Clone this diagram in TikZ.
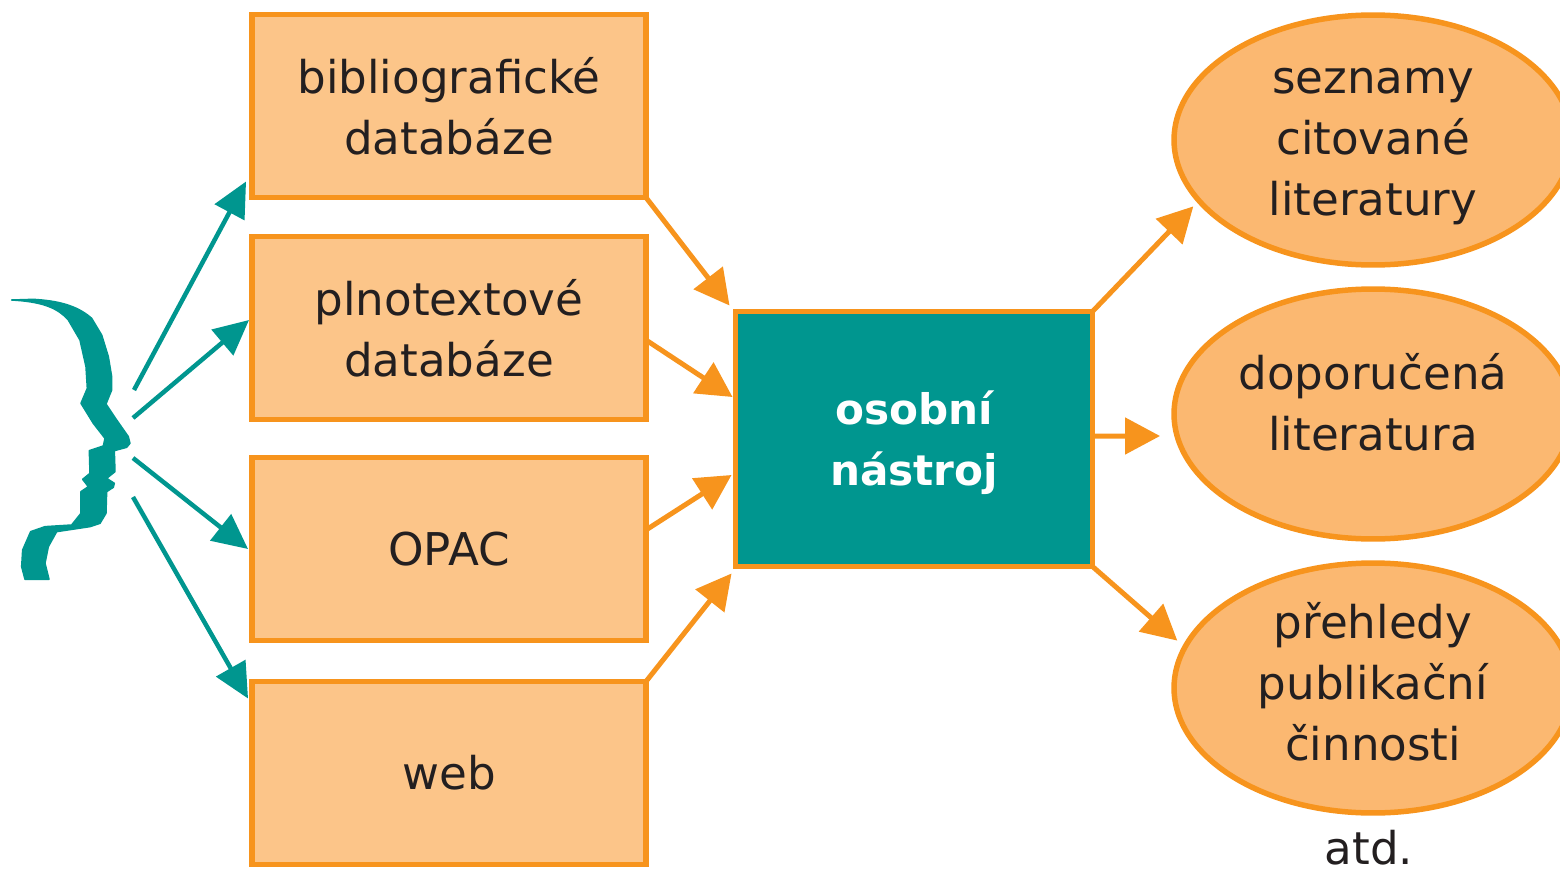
\documentclass[tikz,border=0pt]{standalone}
\usepackage{fontspec}
\setmainfont{DejaVu Sans}
\usetikzlibrary{arrows.meta,shapes.geometric}
\definecolor{tealdark}{HTML}{00968F}
\definecolor{orangeline}{HTML}{F7941D}
\definecolor{orangebox}{HTML}{FCC589}
\definecolor{orangeoval}{HTML}{FBB871}
\definecolor{textdark}{HTML}{231F20}
\tikzset{
  labelfont/.style={font=\fontsize{25.7}{34.7}\selectfont},
  srcbox/.style={draw=orangeline,fill=orangebox,line width=.11cm,minimum width=7.88cm,minimum height=3.66cm,outer sep=0pt,align=center,text=textdark,labelfont},
  toolbox/.style={draw=orangeline,fill=tealdark,line width=.1cm,minimum width=7.14cm,minimum height=5.1cm,outer sep=0pt,align=center,text=white,font=\fontsize{24}{34.7}\selectfont\bfseries},
  outoval/.style={ellipse,draw=orangeline,fill=orangeoval,line width=.11cm,minimum width=7.96cm,minimum height=5cm,inner sep=0pt,outer sep=0pt,align=center,text=textdark,labelfont},
  orangearrow/.style={draw=orangeline,line width=.1cm,-{Triangle[length=.7cm,width=.72cm]}},
  tealarrow/.style={draw=tealdark,line width=.09cm,-{Triangle[length=.7cm,width=.66cm]}}
}
\begin{document}
\begin{tikzpicture}[x=.02cm,y=-.02cm]
\useasboundingbox (0,0) rectangle (1560,869);
\clip (0,0) rectangle (1560,869);
% sources
\node [srcbox] (bib) at (449,106) {bibliografické\\databáze};
\node [srcbox] (plno) at (449,328) {plnotextové\\databáze};
\node [srcbox] (opac) at (449,549) {OPAC};
\node [srcbox] (web) at (449,773) {web};
\node [toolbox] (tool) at (914,439) {\rule{0pt}{.82cm}osobní\\nástroj};
% outputs
\node [outoval] (seznamy) at (1373,140) {\rule{0pt}{.77cm}seznamy\\citované\\literatury};
\node [outoval] (doporucena) at (1373,414) {doporučená\\literatura\\[-.74cm]\mbox{}};
\node [outoval] (prehledy) at (1373,688) {přehledy\\publikační\\činnosti\\[-.97cm]\mbox{}};
\node [text=textdark,labelfont,inner sep=0pt] (atd) at (1369,848) {atd.};
% head
\begin{scope}[shift={(0,170)},x=.02cm/3,y=-.02cm/3]
\fill [tealdark,draw=tealdark,line width=.03cm,line join=round] (35,390) -- (100,388) .. controls (170,392) and (230,405) .. (275,445) -- (305,495) -- (325,560) -- (335,620) -- (335,660) -- (318,702) -- (350,750) -- (385,800) -- (390,820) -- (380,832) -- (343,842) -- (345,905) -- (320,925) -- (343,940) -- (340,952) -- (320,965) -- (318,1030) -- (300,1060) -- (270,1070) -- (170,1085) -- (145,1130) -- (135,1180) -- (147,1228) -- (75,1228) -- (65,1190) -- (68,1140) -- (92,1085) -- (135,1070) -- (215,1065) -- (243,1030) -- (243,965) -- (265,950) -- (248,928) -- (270,910) -- (268,842) -- (310,828) -- (315,805) -- (280,760) -- (243,700) -- (262,655) -- (258,590) -- (240,510) -- (205,450) .. controls (170,410) and (120,395) .. cycle;
\end{scope}
\coordinate (say1) at (134,390);
\coordinate (say2) at (133,418);
\coordinate (say3) at (133,458);
\coordinate (say4) at (133,497);
% arrows from head
\draw [tealarrow] (say1) -- ([shift={(-6,-16)}]bib.south west);
\draw [tealarrow] (say2) -- ([shift={(-3,-8)}]plno.west);
\draw [tealarrow] (say3) -- ([shift={(-4,0)}]opac.west);
\draw [tealarrow] (say4) -- ([shift={(-4,17)}]web.north west);
% arrows to tool
\draw [orangearrow] (bib.south east) -- ([shift={(-6,-6)}]tool.north west);
\draw [orangearrow] ([yshift=-.24cm]plno.east) -- ([shift={(-3,-42)}]tool.west);
\draw [orangearrow] ([yshift=.38cm]opac.east) -- ([shift={(-4,36)}]tool.west);
\draw [orangearrow] (web.north east) -- ([shift={(-4,7)}]tool.south west);
% arrows from tool
\draw [orangearrow] (tool.north east) -- ([shift={(-39,-22)}]seznamy.south west);
\draw [orangearrow] ([yshift=.06cm]tool.east) -- ([shift={(-14,22)}]doporucena.west);
\draw [orangearrow] (tool.south east) -- ([shift={(-55,41)}]prehledy.north west);
\end{tikzpicture}
\end{document}
